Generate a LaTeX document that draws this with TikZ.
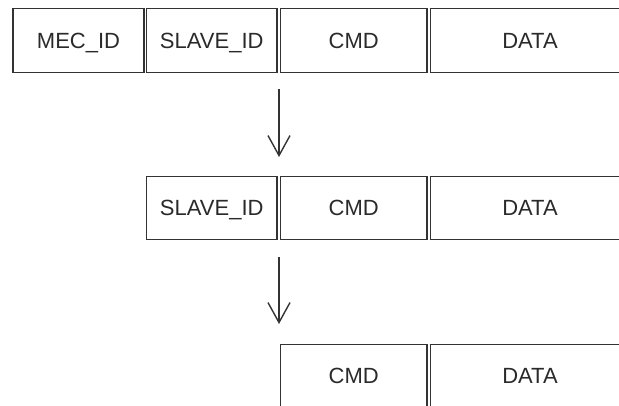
\documentclass[tikz,border=0pt]{standalone}
\usepackage{fontspec}
\setmainfont{Liberation Sans}
\usetikzlibrary{arrows.meta}
\definecolor{edge}{HTML}{333333}
\definecolor{ink}{HTML}{2a2a2a}
\begin{document}
\begin{tikzpicture}[x=1pt,y=-1pt,
  field/.style={draw=edge, line width=1.3pt, rectangle, inner sep=0pt,
    minimum height=63.5pt, text height=15.8pt, text depth=0pt,
    text=ink, font=\fontsize{22}{24}\selectfont},
  flow/.style={draw=edge, line width=1.4pt, -{Straight Barb[length=20pt,width=22pt,line width=1.4pt]}}]
\useasboundingbox (0,0) rectangle (619,405);
\clip (0,0) rectangle (619,405);
% row 1
\node[field, minimum width=131pt]   (mec)  at (78.5,40.5)  {MEC\_ID};
\node[field, minimum width=130.5pt] (s1)   at (211.75,40.5) {SLAVE\_ID};
\node[field, minimum width=146.5pt] (c1)   at (353.75,40.5) {CMD};
\node[field, minimum width=199pt]   (d1)   at (530,40.5)  {DATA};
% row 2
\node[field, minimum width=130.5pt] (s2)   at (211.75,208) {SLAVE\_ID};
\node[field, minimum width=146.5pt] (c2)   at (353.75,208) {CMD};
\node[field, minimum width=199pt]   (d2)   at (530,208)  {DATA};
% row 3
\node[field, minimum width=146.5pt] (c3)   at (353.75,376) {CMD};
\node[field, minimum width=199pt]   (d3)   at (530,376)  {DATA};
% arrows
\coordinate (a1s) at (279,89);
\coordinate (a1e) at (279,157);
\coordinate (a2s) at (279,257);
\coordinate (a2e) at (279,324);
\draw[flow] (a1s) -- (a1e);
\draw[flow] (a2s) -- (a2e);
\end{tikzpicture}
\end{document}
